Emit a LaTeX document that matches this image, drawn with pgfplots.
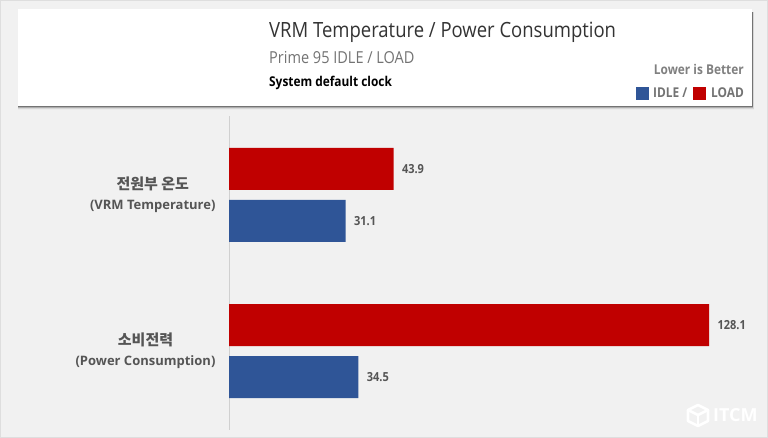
\documentclass[border=0pt]{standalone}
\usepackage{pgfplots}
\usepackage{fontspec}
\pgfplotsset{compat=1.18}
\setmainfont{Open Sans}
\newfontfamily\cond[FakeStretch=0.88]{Open Sans}
\newfontfamily\kr{Noto Sans CJK KR}
\definecolor{bg}{HTML}{F1F1F1}
\definecolor{barred}{HTML}{C00000}
\definecolor{barblue}{HTML}{2F5597}
\definecolor{axisgray}{HTML}{D0D0D0}
\definecolor{labelgray}{HTML}{555555}
\pgfplotstableread{
y load idle
0 43.9 31.1
1 128.1 34.5
}\vrmdata
\begin{document}
\begin{tikzpicture}[x=1pt,y=-1pt]
\useasboundingbox (0,0) rectangle (768,438);
\fill[bg] (0,0) rectangle (768,438);
\draw[axisgray!70,line width=1pt] (0.5,0.5) rectangle (767.5,437.5);
% header card with soft shadow
\fill[black!8] (18,12) rectangle (754,110);
\fill[black!16] (18,12) rectangle (753.5,109);
\fill[black!32] (18,12) rectangle (753,108);
\fill[black!55] (18,12) rectangle (752.5,107);
\fill[white] (18,9) rectangle (752,106);
\node[anchor=base west,inner sep=0,text=black!80,font=\cond\fontsize{21}{24}\selectfont] at (269,38) {VRM Temperature / Power Consumption};
\node[anchor=base west,inner sep=0,text=black!55,font=\cond\fontsize{16.5}{18}\selectfont] at (269,64) {Prime 95 IDLE / LOAD};
\node[anchor=base west,inner sep=0,text=black,font=\cond\bfseries\fontsize{13.5}{14}\selectfont] at (269,87) {System default clock};
\node[anchor=base east,inner sep=0,text=black!50,font=\cond\bfseries\fontsize{13.5}{14}\selectfont] at (744,75) {Lower is Better};
\fill[barblue] (636,87) rectangle (649,100);
\node[anchor=base west,inner sep=0,text=black!55,font=\cond\bfseries\fontsize{13.5}{14}\selectfont] at (653,98) {IDLE /};
\fill[barred] (693,87) rectangle (706,100);
\node[anchor=base east,inner sep=0,text=black!55,font=\cond\bfseries\fontsize{13.5}{14}\selectfont] at (744,98) {LOAD};
% watermark
\begin{scope}[white,line width=2.6pt,line join=round]
\draw (698,405) -- (708,410) -- (698,415) -- (688,410) -- cycle;
\draw (688,410) -- (688,421) -- (698,426) -- (708,421) -- (708,410);
\draw (698,415) -- (698,426);
\end{scope}
\node[anchor=base west,inner sep=0,text=white,font=\bfseries\fontsize{18}{20}\selectfont] at (713,421.5) {ITCM};
\begin{axis}[
  at={(229pt,-430pt)},anchor=south west,
  scale only axis,
  width=524.6pt,height=314pt,
  xmin=0,xmax=140,
  ymin=-0.506,ymax=1.506,
  y dir=reverse,
  axis x line=none,
  axis y line*=left,
  axis line style={axisgray,line width=1pt,-},
  xbar,
  bar width=42pt,
  ytick={0,1},
  yticklabels={{{\kr\fontsize{15}{16}\selectfont 전원부 온도}\\[5pt](VRM Temperature)},{{\kr\fontsize{15}{16}\selectfont 소비전력}\\[5pt](Power Consumption)}},
  yticklabel style={align=center,text=labelgray,font=\bfseries\fontsize{13}{15}\selectfont,xshift=-10pt},
  major tick length=0pt,
  clip=false,
  nodes near coords,
  nodes near coords align={horizontal},
  every node near coord/.append style={text=labelgray,font=\cond\bfseries\fontsize{12.5}{14}\selectfont,xshift=5pt,
    /pgf/number format/.cd,fixed,fixed zerofill,precision=1,assume math mode=true},
]
\addplot[draw=none,fill=barred,bar shift=26pt] table[x=load,y=y] {\vrmdata};
\addplot[draw=none,fill=barblue,bar shift=-26pt] table[x=idle,y=y] {\vrmdata};
\end{axis}
\end{tikzpicture}
\end{document}
